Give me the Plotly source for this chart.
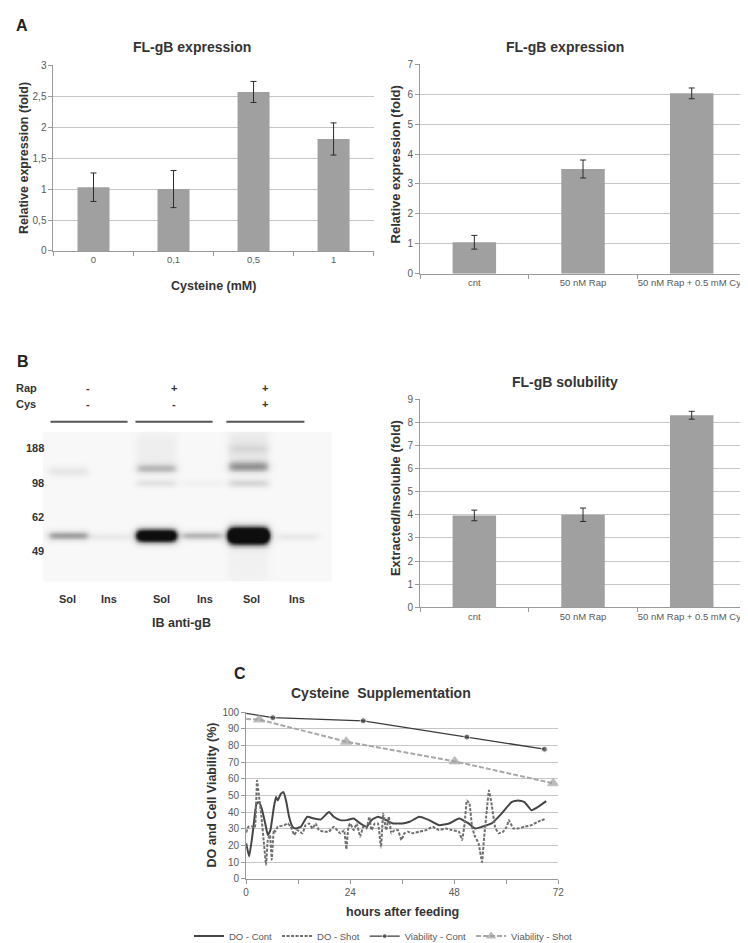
import numpy as np
import plotly.graph_objects as go

W, H = 748, 943
FONT = "Liberation Sans, Arial, sans-serif"
DARK = "#333333"
TICK = "#595959"
GRID = "#c6c6c6"
AXIS = "#9a9a9a"
BAR = "#a0a0a0"

# ---------------- data ----------------
# Panel A left: FL-gB expression vs cysteine
cys_labels = ["0", "0,1", "0,5", "1"]
cys_expr = [1.03, 1.00, 2.57, 1.81]
cys_err = [0.23, 0.30, 0.17, 0.26]

# Panel A right: FL-gB expression with treatments
treat_labels = ["cnt", "50 nM Rap", "50 nM Rap + 0.5 mM Cys"]
treat_expr = [1.05, 3.50, 6.03]
treat_err = [0.23, 0.30, 0.18]

# Panel B right: solubility
sol_ratio = [3.97, 4.00, 8.30]
sol_err = [0.23, 0.29, 0.17]

# Panel B left: western blot (lanes, conditions, marker labels, bands)
lane_names = ["Sol", "Ins", "Sol", "Ins", "Sol", "Ins"]
rap_signs = ["-", "+", "+"]
cys_signs = ["-", "-", "+"]
mw_labels = ["188", "98", "62", "49"]
# band table: lane index, migration (px from top of blot), intensity, thickness
band_lane = [0, 1, 2, 3, 4, 5, 0, 2, 4, 2, 3, 4, 4]
band_pos = [105, 106, 105, 105, 105, 106, 40, 37, 35, 52, 52, 52, 17]
band_int = [0.38, 0.08, 1.4, 0.30, 2.0, 0.09, 0.10, 0.25, 0.35, 0.12, 0.04, 0.18, 0.09]
band_sig = [3.2, 2.6, 4.5, 3.0, 5.5, 2.6, 3.5, 3.5, 4.0, 2.8, 2.5, 3.0, 3.5]
# smears: lane, start, end, intensity
smear_lane = [2, 4, 4]
smear_start = [2, 0, 112]
smear_end = [40, 40, 152]
smear_int = [0.06, 0.09, 0.04]

# Panel C: cysteine supplementation time courses
via_cont_h = [0.0, 6.15, 27.0, 50.9, 68.8]
via_cont_v = [99.2, 96.6, 94.7, 85.0, 77.7]
via_shot_h = [0.0, 3.0, 23.1, 48.1, 70.8]
via_shot_v = [95.8, 95.5, 82.2, 70.4, 57.3]

do_cont_h = [0.0, 0.7, 1.6, 2.4, 3.0, 3.6, 4.4, 5.0, 5.6, 6.4, 6.9, 7.3, 8.0, 8.6, 9.2, 9.9,
             10.7, 11.5, 12.6, 14.1, 15.6, 17.2, 19.1, 20.2, 21.7, 23.2, 24.8, 26.3, 27.8,
             28.9, 30.4, 32.3, 33.9, 36.1, 37.7, 39.9, 42.2, 44.5, 46.8, 49.1, 51.3, 52.8,
             54.4, 56.6, 58.9, 61.2, 62.7, 64.2, 65.8, 67.3, 69.2]
do_cont_v = [21.3, 13.4, 29.2, 45.1, 46.0, 42.1, 33.2, 26.3, 29.2, 43.1, 49.0, 47.0, 51.0, 52.0,
             47.0, 37.2, 31.2, 30.2, 31.2, 37.2, 36.2, 35.6, 40.1, 37.2, 35.2, 35.2, 36.2, 33.2,
             31.2, 35.2, 37.2, 35.2, 33.2, 33.2, 34.2, 37.2, 35.2, 32.2, 33.2, 36.2, 33.2, 30.2,
             31.2, 33.2, 39.1, 46.0, 47.0, 46.0, 41.1, 43.1, 46.6]

do_shot_h = [0.0, 0.5, 1.2, 2.0, 2.5, 2.9, 3.5, 4.1, 4.6, 5.0, 5.5, 5.9, 6.4, 6.7, 7.3, 8.8, 9.6,
             10.3, 11.1, 11.8, 13.0, 13.7, 14.5, 15.3, 16.0, 16.8, 17.9, 19.1, 20.2, 21.7, 22.6,
             23.1, 23.6, 24.0, 24.8, 25.5, 26.3, 27.0, 27.8, 28.4, 28.9, 29.7, 30.4, 31.1, 31.6,
             32.3, 32.9, 33.5, 34.2, 35.0, 35.8, 36.5, 37.3, 38.4, 39.9, 41.5, 43.0, 44.5, 46.0,
             47.5, 49.1, 49.8, 50.4, 50.9, 51.5, 52.1, 52.8, 53.6, 54.4, 54.9, 55.5, 56.0, 56.6,
             57.4, 58.2, 59.3, 60.1, 60.6, 61.6, 62.7, 64.2, 65.8, 67.3, 69.2]
do_shot_v = [27.7, 31.2, 31.6, 30.8, 58.9, 51.0, 38.1, 21.3, 8.5, 23.3, 26.3, 11.5, 29.2, 28.3,
             31.2, 32.2, 33.2, 31.2, 26.3, 29.2, 27.3, 32.2, 33.2, 30.2, 33.2, 29.2, 28.3, 28.3,
             31.2, 27.3, 29.2, 17.8, 31.2, 33.2, 29.2, 33.2, 25.3, 31.2, 30.2, 37.2, 29.2, 33.2,
             33.2, 18.8, 39.1, 29.2, 37.2, 27.3, 29.2, 29.2, 23.3, 27.3, 28.3, 27.3, 28.3, 29.2,
             31.2, 29.2, 30.2, 29.2, 28.3, 23.3, 33.2, 47.0, 45.1, 31.2, 25.3, 21.3, 10.1, 25.3,
             41.1, 53.0, 45.1, 31.2, 27.3, 28.3, 31.2, 35.2, 30.2, 30.2, 31.2, 32.2, 34.2, 36.2]


# ---------------- helpers ----------------
def dom_x(a, b):
    return [a / W, b / W]


def dom_y(top, bottom):
    return [1 - bottom / H, 1 - top / H]


def P(x, y):
    return dict(x=x / W, y=1 - y / H, xref="paper", yref="paper")


annotations = []


def text(x, y, s, size=11, bold=True, color=DARK, xanchor="center", yanchor="middle", angle=0):
    a = P(x, y)
    a.update(text=("<b>%s</b>" % s) if bold else s, showarrow=False, xanchor=xanchor,
             yanchor=yanchor, textangle=angle, font=dict(family=FONT, size=size, color=color))
    annotations.append(a)


fig = go.Figure()

err_style = dict(type="data", thickness=1, width=3, color="#2b2b2b")

# Panel A left
fig.add_trace(go.Bar(x=cys_labels, y=cys_expr, error_y=dict(array=cys_err, **err_style),
                     marker=dict(color=BAR, line=dict(width=0)), xaxis="x", yaxis="y",
                     showlegend=False, hoverinfo="skip"))
# Panel A right
fig.add_trace(go.Bar(x=treat_labels, y=treat_expr, error_y=dict(array=treat_err, **err_style),
                     marker=dict(color=BAR, line=dict(width=0)), xaxis="x2", yaxis="y2",
                     showlegend=False, hoverinfo="skip"))
# Panel B right
fig.add_trace(go.Bar(x=treat_labels, y=sol_ratio, error_y=dict(array=sol_err, **err_style),
                     marker=dict(color=BAR, line=dict(width=0)), xaxis="x3", yaxis="y3",
                     showlegend=False, hoverinfo="skip"))

# Panel B left: blot image from band table
lane_x = [26, 68, 115, 161, 208, 258]
gx = np.arange(0, 294, 1.5)
gy = np.arange(0, 153, 1.5)
XX, YY = np.meshgrid(gx, gy)
Z = np.zeros_like(XX)


def lane_profile(xc, hw):
    return 1.0 / (1.0 + np.exp((np.abs(XX - xc) - hw) / 2.0))


for li, yc, inten, sg in zip(band_lane, band_pos, band_int, band_sig):
    Z += inten * np.exp(-0.5 * ((YY - yc) / sg) ** 2) * lane_profile(lane_x[li], 20)
for li, s0, s1, inten in zip(smear_lane, smear_start, smear_end, smear_int):
    box = 1.0 / (1.0 + np.exp((s0 - YY) / 3.0)) / (1.0 + np.exp((YY - s1) / 3.0))
    Z += inten * box * lane_profile(lane_x[li], 20)
Z = np.clip(Z, 0, 1)
fig.add_trace(go.Heatmap(x=gx, y=gy, z=Z, zmin=0, zmax=1, zsmooth="best", showscale=False,
                         hoverinfo="skip", xaxis="x4", yaxis="y4",
                         colorscale=[[0, "#f8f8f8"], [0.15, "#dedede"], [0.4, "#9a9a9a"],
                                     [0.75, "#303030"], [1, "#0e0e0e"]]))

# Panel C
fig.add_trace(go.Scatter(x=do_cont_h, y=do_cont_v, mode="lines", name="DO - Cont",
                         line=dict(color="#454545", width=2, shape="spline", smoothing=0.4),
                         xaxis="x5", yaxis="y5", hoverinfo="skip"))
fig.add_trace(go.Scatter(x=do_shot_h, y=do_shot_v, mode="lines", name="DO - Shot",
                         line=dict(color="#6e6e6e", width=2, dash="3px,1.5px", shape="spline",
                                   smoothing=0.3),
                         xaxis="x5", yaxis="y5", hoverinfo="skip"))
fig.add_trace(go.Scatter(x=via_cont_h, y=via_cont_v, mode="lines+markers", name="Viability - Cont",
                         line=dict(color="#3a3a3a", width=1.3),
                         marker=dict(symbol="circle", size=[0, 6, 6, 6, 6], color="#3a3a3a"),
                         xaxis="x5", yaxis="y5", hoverinfo="skip"))
fig.add_trace(go.Scatter(x=via_shot_h, y=via_shot_v, mode="lines+markers", name="Viability - Shot",
                         line=dict(color="#a8a8a8", width=2, dash="5px,2px"),
                         marker=dict(symbol="triangle-up", size=[0, 10, 10, 10, 10],
                                     color="#a0a0a0"),
                         xaxis="x5", yaxis="y5", hoverinfo="skip"))

tickfont = dict(family=FONT, size=10, color=TICK)
catfont = dict(family=FONT, size=9.5, color=TICK)


def cat_x(domain, anchor):
    return dict(domain=domain, anchor=anchor, type="category", showline=True, linecolor=AXIS,
                linewidth=1, ticks="outside", tickson="boundaries", ticklen=4, tickcolor=AXIS,
                showgrid=False, tickfont=catfont, tickangle=0, fixedrange=True)


def val_y(domain, anchor, rng, tickvals, ticktext=None):
    d = dict(domain=domain, anchor=anchor, range=rng, showline=True, linecolor=AXIS, linewidth=1,
             ticks="outside", ticklen=4, tickcolor=AXIS, showgrid=True, gridcolor=GRID,
             gridwidth=1, zeroline=False, tickfont=tickfont, tickvals=tickvals, fixedrange=True)
    if ticktext is not None:
        d["ticktext"] = ticktext
    return d


layout = dict(
    width=W, height=H, margin=dict(l=0, r=0, t=0, b=0), paper_bgcolor="white",
    plot_bgcolor="white", bargap=0.6, font=dict(family=FONT),
    xaxis=cat_x(dom_x(43, 367), "y"),
    yaxis=val_y(dom_y(52, 240), "x", [0, 3], [0, 0.5, 1, 1.5, 2, 2.5, 3],
                ["0", "0,5", "1", "1,5", "2", "2,5", "3"]),
    xaxis2=cat_x(dom_x(414, 744), "y2"),
    yaxis2=val_y(dom_y(51, 263), "x2", [0, 7], list(range(8))),
    xaxis3=cat_x(dom_x(414, 744), "y3"),
    yaxis3=val_y(dom_y(390, 601), "x3", [0, 9], list(range(10))),
    xaxis4=dict(domain=dom_x(32, 325), anchor="y4", range=[0, 293], visible=False,
                fixedrange=True),
    yaxis4=dict(domain=dom_y(423, 575), anchor="x4", range=[152, 0], visible=False,
                fixedrange=True),
    xaxis5=dict(domain=dom_x(238, 554), anchor="y5", range=[0, 72], showline=True,
                linecolor=AXIS, ticks="outside", ticklen=4, tickcolor=AXIS, showgrid=False,
                zeroline=False, tickvals=[0, 12, 24, 36, 48, 60, 72],
                ticktext=["0", "", "24", "", "48", "", "72"], tickfont=tickfont, fixedrange=True),
    yaxis5=val_y(dom_y(707, 876), "x5", [0, 100], list(range(0, 101, 10))),
    legend=dict(orientation="h", x=377 / W, xanchor="center", y=1 - 934 / H, yanchor="middle",
                font=dict(family=FONT, size=9.5, color=TICK), itemwidth=30,
                bgcolor="rgba(0,0,0,0)", tracegroupgap=0),
)

# Titles and labels
text(11, 12, "A", size=16, color="#222")
text(12, 352, "B", size=16, color="#222")
text(232, 668, "C", size=16, color="#222")

text(183, 33, "FL-gB expression", size=14)
text(561, 33, "FL-gB expression", size=14)
text(561, 373, "FL-gB solubility", size=14)
text(375, 688, "Cysteine  Supplementation", size=14)

text(13, 146, "Relative expression (fold)", size=12.5, angle=-90)
text(389, 152, "Relative expression (fold)", size=13, angle=-90)
text(389, 490, "Extracted/Insoluble (fold)", size=13, angle=-90)
text(203, 791, "DO and Cell Viability (%)", size=12.5, angle=-90)

text(205, 275, "Cysteine (mM)", size=12.5)
text(396, 910, "hours after feeding", size=12.5)

# Blot labels
text(3, 379, "Rap", size=11, xanchor="left")
text(3, 395, "Cys", size=11, xanchor="left")
sign_x = [78, 165, 257]
for sx, r, c in zip(sign_x, rap_signs, cys_signs):
    text(sx, 379, r, size=11)
    text(sx, 395, c, size=11)
mw_y = [440, 475, 509, 544]
for lab, yy in zip(mw_labels, mw_y):
    text(35, yy, lab, size=11, xanchor="right")
lane_label_x = [57, 99, 152, 196, 243, 289]
for lab, xx in zip(lane_names, lane_label_x):
    text(xx, 593, lab, size=11)
text(173, 617, "IB anti-gB", size=12.5)

shapes = []
for a, b in [(40, 118), (126, 204), (218, 297)]:
    shapes.append(dict(type="line", xref="paper", yref="paper", x0=a / W, x1=b / W,
                       y0=1 - 413 / H, y1=1 - 413 / H, line=dict(color="#555", width=2)))

layout["annotations"] = annotations
layout["shapes"] = shapes
fig.update_layout(**layout)
fig.write_html("out.html")
